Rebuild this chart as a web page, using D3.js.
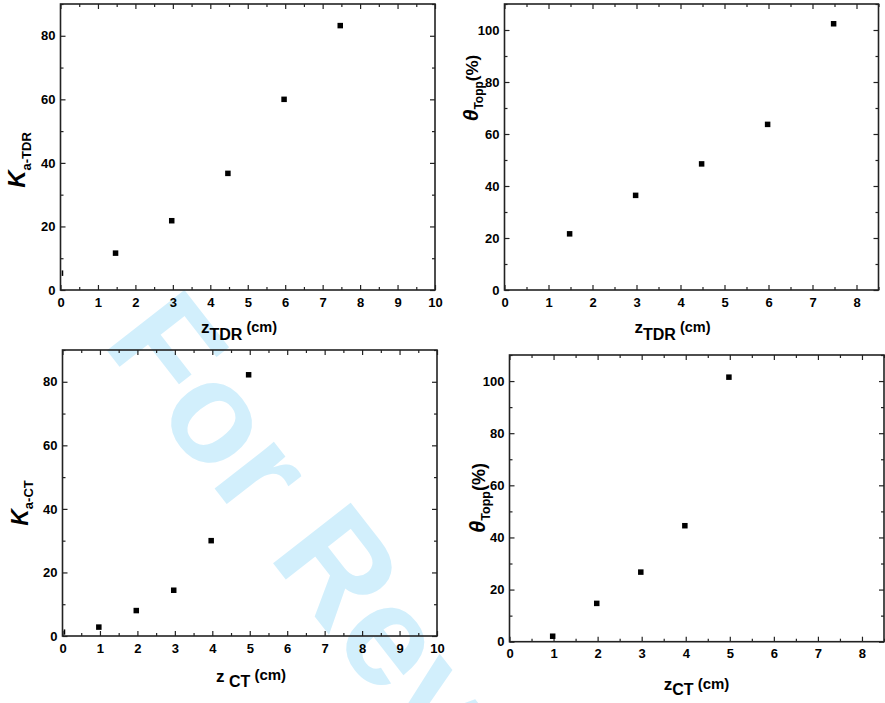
<!DOCTYPE html>
<html>
<head>
<meta charset="utf-8">
<script src="https://cdn.jsdelivr.net/npm/d3@7"></script>
<style>
  html, body { margin: 0; padding: 0; background: #fff; }
  svg { display: block; }
</style>
</head>
<body>
<svg id="chart" width="885" height="703"></svg>
<script>
// ---------- data ----------
const p1X = [0, 1.47, 2.97, 4.47, 5.97, 7.47];
const p1Y = [5.3, 11.6, 21.8, 36.7, 60.0, 83.2];
const p2X = [1.48, 2.98, 4.48, 5.98, 7.48];
const p2Y = [21.6, 36.4, 48.5, 63.7, 102.4];
const p3X = [0, 0.97, 1.97, 2.97, 3.97, 4.97];
const p3Y = [1.2, 2.8, 8.0, 14.4, 30.0, 82.2];
const p4X = [0.98, 1.98, 2.98, 3.98, 4.98];
const p4Y = [2.1, 14.7, 26.7, 44.5, 101.5];

const xTicks10 = [0, 1, 2, 3, 4, 5, 6, 7, 8, 9, 10];
const xTicks8 = [0, 1, 2, 3, 4, 5, 6, 7, 8];
const yTicks80 = [0, 20, 40, 60, 80];
const yTicks100 = [0, 20, 40, 60, 80, 100];
const watermarkText = "For Review Only";

// ---------- drawing ----------
const svg = d3.select("#chart");
const FONT = "'Liberation Sans', Arial, Helvetica, sans-serif";
const AX = "#222";

// watermark (behind)
svg.append("text")
  .attr("transform", "translate(101,343) rotate(52)")
  .attr("font-family", FONT)
  .attr("font-weight", "bold")
  .attr("font-size", 143)
  .attr("fill", "#d2effc")
  .text(watermarkText);

function minorOf(ticks, step, maxV) {
  const out = [];
  for (let v = ticks[0] + step / 2; v <= maxV + 1e-9; v += step) out.push(+v.toFixed(4));
  return out;
}

function panel(c) {
  const g = svg.append("g");
  const x = d3.scaleLinear().domain(c.xDom).range([c.l, c.r]);
  const y = d3.scaleLinear().domain(c.yDom).range([c.b, c.t]);
  const clipId = "clip" + c.id;
  g.append("clipPath").attr("id", clipId).append("rect")
    .attr("x", c.l + 1.2).attr("y", c.t).attr("width", c.r - c.l).attr("height", c.b - c.t - 1.2);

  if (c.bg) {
    g.append("rect").attr("x", c.l).attr("y", c.t)
      .attr("width", c.r - c.l).attr("height", c.b - c.t).attr("fill", "#fff");
  }
  const xMinor = minorOf(c.xTicks, 1, c.xDom[1]);
  const yMinor = minorOf(c.yTicks, 20, c.yDom[1]);

  function styleAxis(sel) {
    sel.attr("color", AX)
      .attr("font-family", FONT)
      .attr("font-size", 13)
      .attr("font-weight", "bold");
    sel.select(".domain").remove();
    sel.selectAll("line").attr("stroke-width", 1.2);
    sel.selectAll("text").attr("fill", "#000");
  }
  // bottom
  g.append("g").attr("transform", `translate(0,${c.b})`)
    .call(d3.axisBottom(x).tickValues(xMinor).tickSize(-3).tickFormat("")).call(styleAxis);
  g.append("g").attr("transform", `translate(0,${c.b})`)
    .call(d3.axisBottom(x).tickValues(c.xTicks).tickSizeInner(-5).tickSizeOuter(0)
      .tickPadding(7.5).tickFormat(d3.format("d"))).call(styleAxis);
  // top
  g.append("g").attr("transform", `translate(0,${c.t})`)
    .call(d3.axisTop(x).tickValues(xMinor).tickSize(-3).tickFormat("")).call(styleAxis);
  g.append("g").attr("transform", `translate(0,${c.t})`)
    .call(d3.axisTop(x).tickValues(c.xTicks).tickSize(-5).tickFormat("")).call(styleAxis);
  // left
  g.append("g").attr("transform", `translate(${c.l},0)`)
    .call(d3.axisLeft(y).tickValues(yMinor).tickSize(-3).tickFormat("")).call(styleAxis);
  g.append("g").attr("transform", `translate(${c.l},0)`)
    .call(d3.axisLeft(y).tickValues(c.yTicks).tickSizeInner(-5).tickSizeOuter(0)
      .tickPadding(5).tickFormat(d3.format("d"))).call(styleAxis);
  // right
  g.append("g").attr("transform", `translate(${c.r},0)`)
    .call(d3.axisRight(y).tickValues(yMinor).tickSize(-3).tickFormat("")).call(styleAxis);
  g.append("g").attr("transform", `translate(${c.r},0)`)
    .call(d3.axisRight(y).tickValues(c.yTicks).tickSize(-5).tickFormat("")).call(styleAxis);

  // points
  const pts = c.xs.map((v, i) => ({ x: v, y: c.ys[i] }));
  const s = 5.5;
  g.append("g").attr("clip-path", `url(#${clipId})`)
    .selectAll("rect").data(pts).join("rect")
    .attr("x", d => x(d.x) - s / 2).attr("y", d => y(d.y) - s / 2)
    .attr("width", s).attr("height", s).attr("fill", "#000");

  // frame
  g.append("rect").attr("x", c.l).attr("y", c.t)
    .attr("width", c.r - c.l).attr("height", c.b - c.t)
    .attr("fill", "none").attr("stroke", AX).attr("stroke-width", 1.6);

  // y label
  const yl = svg.append("text")
    .attr("transform", `translate(${c.yLab.x},${c.yLab.y}) rotate(-90)`)
    .attr("text-anchor", "middle").attr("font-family", FONT).attr("font-weight", "bold")
    .attr("fill", "#000");
  c.yLab.parts.forEach(p => {
    yl.append("tspan").attr("font-size", p.size).attr("dy", p.dy || 0)
      .attr("font-style", p.italic ? "italic" : "normal").text(p.t);
  });
  // x label
  const xl = svg.append("text")
    .attr("x", c.xLab.x).attr("y", c.xLab.y)
    .attr("text-anchor", "middle").attr("font-family", FONT).attr("font-weight", "bold")
    .attr("fill", "#000").attr("xml:space", "preserve");
  c.xLab.parts.forEach(p => {
    xl.append("tspan").attr("font-size", p.size).attr("dy", p.dy || 0).text(p.t);
  });
}

panel({
  id: 1, l: 60.5, r: 435, t: 4, b: 290, xDom: [0, 10], yDom: [0, 90],
  xTicks: xTicks10, yTicks: yTicks80, xs: p1X, ys: p1Y, bg: true,
  yLab: { x: 25, y: 160, parts: [{ t: "K", size: 24, italic: true }, { t: "a-TDR", size: 13, dy: 6 }] },
  xLab: { x: 239, y: 333, parts: [{ t: "z", size: 17 }, { t: "TDR", size: 16, dy: 7 }, { t: " (cm)", size: 14.5, dy: -8 }] }
});
panel({
  id: 2, l: 504.5, r: 878.5, t: 4, b: 290, xDom: [0, 8.5], yDom: [0, 110],
  xTicks: xTicks8, yTicks: yTicks100, xs: p2X, ys: p2Y, bg: true,
  yLab: { x: 478, y: 88, parts: [{ t: "θ", size: 21, italic: true }, { t: "Topp", size: 12, dy: 5 }, { t: "(%)", size: 17, dy: -5 }] },
  xLab: { x: 672.5, y: 333, parts: [{ t: "z", size: 17 }, { t: "TDR", size: 16, dy: 7 }, { t: " (cm)", size: 14.5, dy: -8 }] }
});
panel({
  id: 3, l: 62.5, r: 437, t: 350, b: 636, xDom: [0, 10], yDom: [0, 90],
  xTicks: xTicks10, yTicks: yTicks80, xs: p3X, ys: p3Y, bg: false,
  yLab: { x: 28, y: 503, parts: [{ t: "K", size: 23, italic: true }, { t: "a-CT", size: 13, dy: 5 }] },
  xLab: { x: 251, y: 682, parts: [{ t: "z", size: 17 }, { t: " CT", size: 16, dy: 5 }, { t: " (cm)", size: 15, dy: -7 }] }
});
panel({
  id: 4, l: 509.5, r: 884, t: 355, b: 641.7, xDom: [0, 8.5], yDom: [0, 110],
  xTicks: xTicks8, yTicks: yTicks100, xs: p4X, ys: p4Y, bg: false,
  yLab: { x: 485, y: 498, parts: [{ t: "θ", size: 22, italic: true }, { t: "Topp", size: 12.5, dy: 5 }, { t: "(%)", size: 18, dy: -5 }] },
  xLab: { x: 696.5, y: 690, parts: [{ t: "z", size: 17 }, { t: "CT", size: 16, dy: 5 }, { t: " (cm)", size: 15, dy: -6 }] }
});
</script>
</body>
</html>
